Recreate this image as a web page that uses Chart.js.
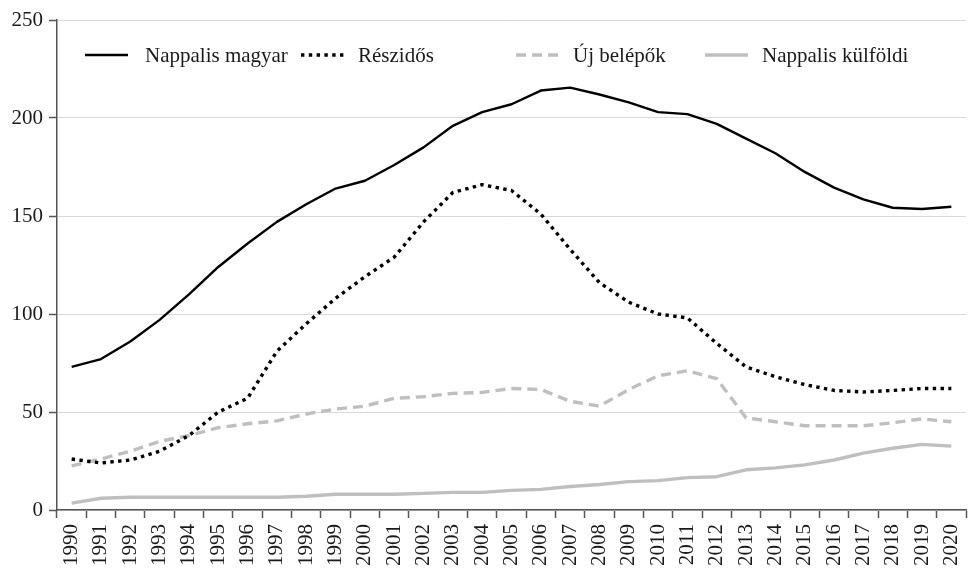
<!DOCTYPE html>
<html>
<head>
<meta charset="utf-8">
<script src="https://cdn.jsdelivr.net/npm/chart.js@4/dist/chart.umd.min.js"></script>
<style>
  html, body { margin: 0; padding: 0; background: #fff; }
  #wrap { width: 971px; height: 568px; }
</style>
</head>
<body>
<div id="wrap"><canvas id="chart" width="971" height="568"></canvas></div>
<script>
// ---- data ----
const years = ['1990','1991','1992','1993','1994','1995','1996','1997','1998','1999',
               '2000','2001','2002','2003','2004','2005','2006','2007','2008','2009',
               '2010','2011','2012','2013','2014','2015','2016','2017','2018','2019','2020'];

const nappalisMagyar = [73, 77, 86, 97, 110, 124, 136, 147, 156, 164,
                        168, 176, 185, 196, 203, 207, 214, 215.5, 212, 208,
                        203, 202, 197, 189.5, 182, 172.5, 164.5, 158.5, 154.2, 153.6, 154.7];

const reszidos = [26, 24, 25.5, 30, 38, 50, 57, 81, 95, 108,
                  119, 129, 147, 162, 166, 163, 151, 133, 116, 106,
                  100, 98, 85, 73, 68, 64, 61, 60.2, 61, 62, 62];

const ujBelepok = [22.5, 26, 30, 35, 38, 42, 44, 45.5, 49, 51.5,
                   53, 57, 57.8, 59.5, 60, 62, 61.5, 55.5, 53, 61.5,
                   68.5, 71, 67, 47, 45, 43, 43, 43, 44.5, 46.5, 45];

const nappalisKulfoldi = [3.5, 6, 6.5, 6.5, 6.5, 6.5, 6.5, 6.5, 7, 8,
                          8, 8, 8.5, 9, 9, 10, 10.5, 12, 13, 14.5,
                          15, 16.5, 17, 20.5, 21.5, 23, 25.5, 29, 31.5, 33.5, 32.6];

const seriesNames = ['Nappalis magyar', 'Részidős', 'Új belépők', 'Nappalis külföldi'];
const yTicks = [0, 50, 100, 150, 200, 250];

// ---- style ----
const FONT = "'Liberation Serif', 'Times New Roman', serif";
const TEXT = '#1a1a1a';
const AXIS = '#555555';
const GRID = '#d9d9d9';

// legend drawn inside the plot area, one row
const legendInside = {
    id: 'legendInside',
    afterDraw(chart) {
        const ctx = chart.ctx;
        const slots = [[85, 145], [301, 358], [516, 573], [705, 762]];
        const y = 55;
        ctx.save();
        ctx.font = '21px ' + FONT;
        ctx.fillStyle = TEXT;
        ctx.textBaseline = 'middle';
        chart.data.datasets.forEach((ds, i) => {
            const [x0, tx] = slots[i];
            ctx.beginPath();
            ctx.lineWidth = ds.borderWidth;
            ctx.strokeStyle = ds.borderColor;
            ctx.setLineDash(ds.borderDash || []);
            ctx.lineCap = 'butt';
            ctx.moveTo(x0, y);
            ctx.lineTo(x0 + 43, y);
            ctx.stroke();
            ctx.setLineDash([]);
            ctx.fillText(ds.label, tx, y + 1);
        });
        ctx.restore();
    }
};

new Chart(document.getElementById('chart'), {
    type: 'line',
    data: {
        labels: years,
        datasets: [
            {
                label: seriesNames[0],
                data: nappalisMagyar,
                borderColor: '#000000',
                borderWidth: 2.4
            },
            {
                label: seriesNames[1],
                data: reszidos,
                borderColor: '#000000',
                borderWidth: 3.4,
                borderDash: [3.4, 4.4]
            },
            {
                label: seriesNames[2],
                data: ujBelepok,
                borderColor: '#bfbfbf',
                borderWidth: 3.4,
                borderDash: [10, 6]
            },
            {
                label: seriesNames[3],
                data: nappalisKulfoldi,
                borderColor: '#bfbfbf',
                borderWidth: 3.4
            }
        ]
    },
    options: {
        responsive: false,
        animation: false,
        layout: { padding: { top: 20, right: 5, left: 0, bottom: 0 } },
        elements: {
            point: { radius: 0 },
            line: { tension: 0, borderCapStyle: 'butt', borderJoinStyle: 'round' }
        },
        plugins: {
            legend: { display: false },
            tooltip: { enabled: false }
        },
        scales: {
            x: {
                type: 'category',
                offset: true,
                grid: {
                    offset: true,
                    drawOnChartArea: false,
                    drawTicks: true,
                    tickLength: 8,
                    tickColor: AXIS,
                    tickWidth: 1.5
                },
                border: { color: AXIS, width: 1.5 },
                ticks: {
                    autoSkip: false,
                    minRotation: 90,
                    maxRotation: 90,
                    padding: 6,
                    color: TEXT,
                    font: { family: FONT, size: 21 }
                },
                afterFit(scale) {
                    scale.height = 58;
                    scale.paddingLeft = 0;
                    scale.paddingRight = 0;
                }
            },
            y: {
                min: 0,
                max: 250,
                afterBuildTicks(scale) { scale.ticks = yTicks.map(v => ({ value: v })); },
                grid: {
                    color: GRID,
                    lineWidth: 1,
                    tickLength: 8,
                    tickColor: AXIS,
                    tickWidth: 1.5
                },
                border: { color: AXIS, width: 1.5 },
                ticks: {
                    padding: 6,
                    color: TEXT,
                    font: { family: FONT, size: 21 }
                },
                afterFit(scale) { scale.width = 57; }
            }
        }
    },
    plugins: [legendInside]
});
</script>
</body>
</html>
